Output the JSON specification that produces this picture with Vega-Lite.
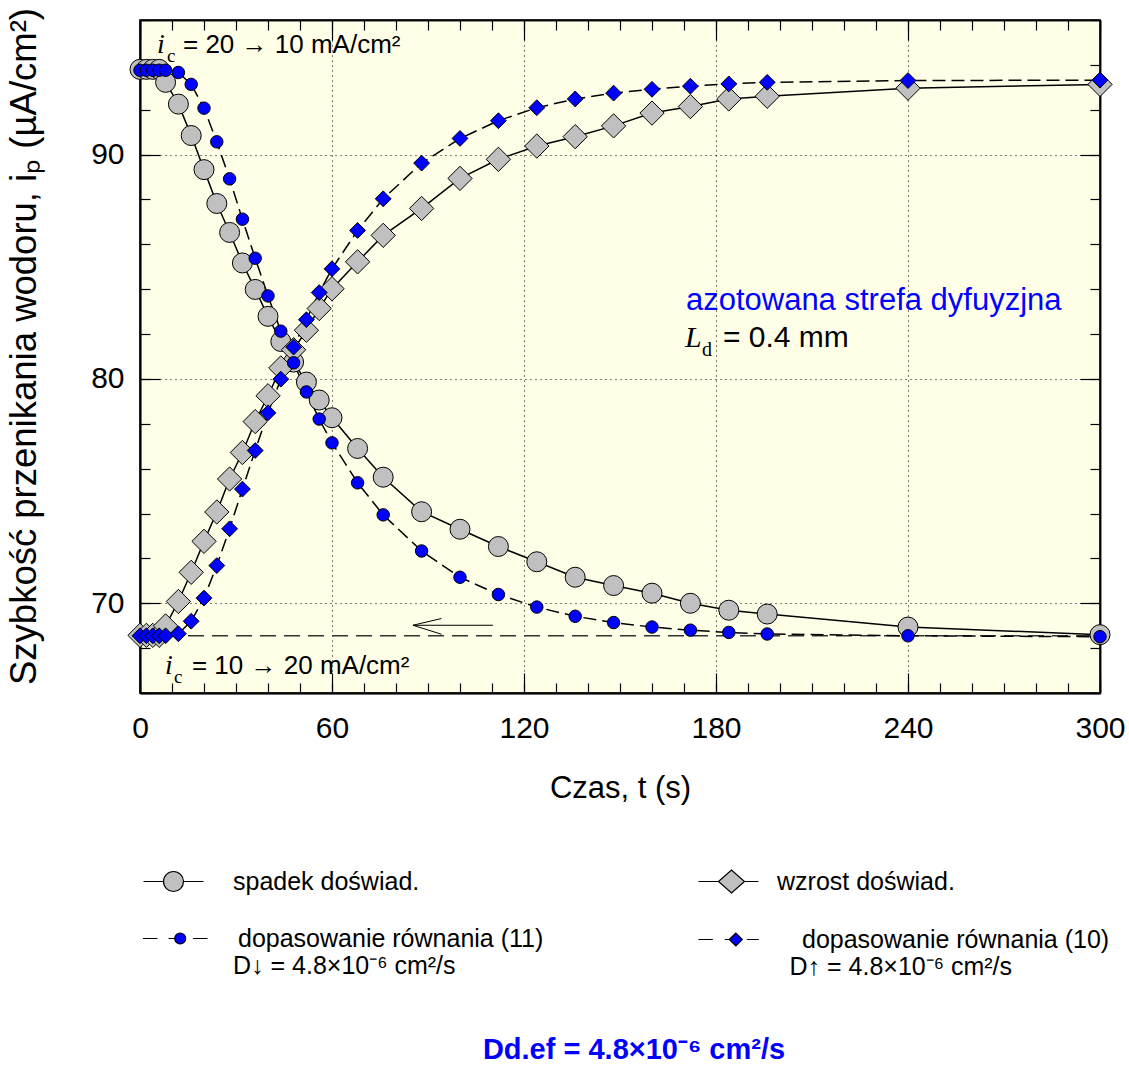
{
  "$schema": "https://vega.github.io/schema/vega-lite/v6.json",
  "width": 960,
  "height": 673,
  "autosize": {"type": "none"},
  "padding": {"left": 140, "top": 20, "right": 29, "bottom": 377},
  "background": "white",
  "config": {
    "view": {"stroke": "black", "strokeWidth": 1.5, "fill": "#FFFFE8"},
    "font": "Liberation Sans",
    "axis": {"domainColor": "black", "domainWidth": 1.5, "tickColor": "black", "tickWidth": 1.2, "labelColor": "black", "labelFont": "Liberation Sans", "labelFontSize": 30, "titleFont": "Liberation Sans", "titleFontSize": 31, "titleFontWeight": "normal", "titleColor": "black", "labelOverlap": false, "labelFlush": false, "gridColor": "black", "gridDash": [1, 4], "gridWidth": 1}
  },
  "title": {"text": "Dd.ef = 4.8×10⁻⁶ cm²/s", "orient": "bottom", "anchor": "middle", "frame": "group", "offset": 56, "dx": 14, "font": "Liberation Sans", "fontSize": 29, "fontWeight": "bold", "color": "#0000FF"},
  "datasets": {
    "curves": [
      {"series": "spadek doświad.", "t": 0, "i": 93.8}, {"series": "spadek doświad.", "t": 2, "i": 93.8}, {"series": "spadek doświad.", "t": 4, "i": 93.8}, {"series": "spadek doświad.", "t": 6, "i": 93.8}, {"series": "spadek doświad.", "t": 8, "i": 93.22}, {"series": "spadek doświad.", "t": 12, "i": 92.25}, {"series": "spadek doświad.", "t": 16, "i": 90.85}, {"series": "spadek doświad.", "t": 20, "i": 89.33}, {"series": "spadek doświad.", "t": 24, "i": 87.82}, {"series": "spadek doświad.", "t": 28, "i": 86.53}, {"series": "spadek doświad.", "t": 32, "i": 85.17}, {"series": "spadek doświad.", "t": 36, "i": 83.99}, {"series": "spadek doświad.", "t": 40, "i": 82.79}, {"series": "spadek doświad.", "t": 44, "i": 81.67}, {"series": "spadek doświad.", "t": 48, "i": 80.75}, {"series": "spadek doświad.", "t": 52, "i": 79.86}, {"series": "spadek doświad.", "t": 56, "i": 79.06}, {"series": "spadek doświad.", "t": 60, "i": 78.27}, {"series": "spadek doświad.", "t": 68, "i": 76.9}, {"series": "spadek doświad.", "t": 76, "i": 75.62}, {"series": "spadek doświad.", "t": 88, "i": 74.08}, {"series": "spadek doświad.", "t": 100, "i": 73.3}, {"series": "spadek doświad.", "t": 112, "i": 72.53}, {"series": "spadek doświad.", "t": 124, "i": 71.85}, {"series": "spadek doświad.", "t": 136, "i": 71.16}, {"series": "spadek doświad.", "t": 148, "i": 70.79}, {"series": "spadek doświad.", "t": 160, "i": 70.45}, {"series": "spadek doświad.", "t": 172, "i": 70.0}, {"series": "spadek doświad.", "t": 184, "i": 69.69}, {"series": "spadek doświad.", "t": 196, "i": 69.52}, {"series": "spadek doświad.", "t": 240, "i": 68.94}, {"series": "spadek doświad.", "t": 300, "i": 68.6},
      {"series": "wzrost doświad.", "t": 0, "i": 68.57}, {"series": "wzrost doświad.", "t": 2, "i": 68.57}, {"series": "wzrost doświad.", "t": 4, "i": 68.57}, {"series": "wzrost doświad.", "t": 6, "i": 68.57}, {"series": "wzrost doświad.", "t": 8, "i": 68.99}, {"series": "wzrost doświad.", "t": 12, "i": 70.08}, {"series": "wzrost doświad.", "t": 16, "i": 71.38}, {"series": "wzrost doświad.", "t": 20, "i": 72.76}, {"series": "wzrost doświad.", "t": 24, "i": 74.07}, {"series": "wzrost doświad.", "t": 28, "i": 75.54}, {"series": "wzrost doświad.", "t": 32, "i": 76.72}, {"series": "wzrost doświad.", "t": 36, "i": 78.1}, {"series": "wzrost doświad.", "t": 40, "i": 79.25}, {"series": "wzrost doświad.", "t": 44, "i": 80.49}, {"series": "wzrost doświad.", "t": 48, "i": 81.3}, {"series": "wzrost doświad.", "t": 52, "i": 82.17}, {"series": "wzrost doświad.", "t": 56, "i": 83.14}, {"series": "wzrost doświad.", "t": 60, "i": 84.02}, {"series": "wzrost doświad.", "t": 68, "i": 85.22}, {"series": "wzrost doświad.", "t": 76, "i": 86.4}, {"series": "wzrost doświad.", "t": 88, "i": 87.6}, {"series": "wzrost doświad.", "t": 100, "i": 88.94}, {"series": "wzrost doświad.", "t": 112, "i": 89.79}, {"series": "wzrost doświad.", "t": 124, "i": 90.38}, {"series": "wzrost doświad.", "t": 136, "i": 90.8}, {"series": "wzrost doświad.", "t": 148, "i": 91.28}, {"series": "wzrost doświad.", "t": 160, "i": 91.85}, {"series": "wzrost doświad.", "t": 172, "i": 92.14}, {"series": "wzrost doświad.", "t": 184, "i": 92.48}, {"series": "wzrost doświad.", "t": 196, "i": 92.6}, {"series": "wzrost doświad.", "t": 240, "i": 92.96}, {"series": "wzrost doświad.", "t": 300, "i": 93.13},
      {"series": "dopasowanie równania (11)", "t": 0, "i": 93.76}, {"series": "dopasowanie równania (11)", "t": 2, "i": 93.76}, {"series": "dopasowanie równania (11)", "t": 4, "i": 93.76}, {"series": "dopasowanie równania (11)", "t": 6, "i": 93.76}, {"series": "dopasowanie równania (11)", "t": 8, "i": 93.76}, {"series": "dopasowanie równania (11)", "t": 12, "i": 93.66}, {"series": "dopasowanie równania (11)", "t": 16, "i": 93.13}, {"series": "dopasowanie równania (11)", "t": 20, "i": 92.07}, {"series": "dopasowanie równania (11)", "t": 24, "i": 90.57}, {"series": "dopasowanie równania (11)", "t": 28, "i": 88.92}, {"series": "dopasowanie równania (11)", "t": 32, "i": 87.12}, {"series": "dopasowanie równania (11)", "t": 36, "i": 85.38}, {"series": "dopasowanie równania (11)", "t": 40, "i": 83.7}, {"series": "dopasowanie równania (11)", "t": 44, "i": 82.13}, {"series": "dopasowanie równania (11)", "t": 48, "i": 80.72}, {"series": "dopasowanie równania (11)", "t": 52, "i": 79.42}, {"series": "dopasowanie równania (11)", "t": 56, "i": 78.21}, {"series": "dopasowanie równania (11)", "t": 60, "i": 77.15}, {"series": "dopasowanie równania (11)", "t": 68, "i": 75.37}, {"series": "dopasowanie równania (11)", "t": 76, "i": 73.94}, {"series": "dopasowanie równania (11)", "t": 88, "i": 72.33}, {"series": "dopasowanie równania (11)", "t": 100, "i": 71.16}, {"series": "dopasowanie równania (11)", "t": 112, "i": 70.39}, {"series": "dopasowanie równania (11)", "t": 124, "i": 69.83}, {"series": "dopasowanie równania (11)", "t": 136, "i": 69.42}, {"series": "dopasowanie równania (11)", "t": 148, "i": 69.14}, {"series": "dopasowanie równania (11)", "t": 160, "i": 68.94}, {"series": "dopasowanie równania (11)", "t": 172, "i": 68.8}, {"series": "dopasowanie równania (11)", "t": 184, "i": 68.7}, {"series": "dopasowanie równania (11)", "t": 196, "i": 68.63}, {"series": "dopasowanie równania (11)", "t": 240, "i": 68.55}, {"series": "dopasowanie równania (11)", "t": 300, "i": 68.51},
      {"series": "dopasowanie równania (10)", "t": 0, "i": 68.55}, {"series": "dopasowanie równania (10)", "t": 2, "i": 68.55}, {"series": "dopasowanie równania (10)", "t": 4, "i": 68.55}, {"series": "dopasowanie równania (10)", "t": 6, "i": 68.55}, {"series": "dopasowanie równania (10)", "t": 8, "i": 68.55}, {"series": "dopasowanie równania (10)", "t": 12, "i": 68.64}, {"series": "dopasowanie równania (10)", "t": 16, "i": 69.2}, {"series": "dopasowanie równania (10)", "t": 20, "i": 70.23}, {"series": "dopasowanie równania (10)", "t": 24, "i": 71.68}, {"series": "dopasowanie równania (10)", "t": 28, "i": 73.32}, {"series": "dopasowanie równania (10)", "t": 32, "i": 75.09}, {"series": "dopasowanie równania (10)", "t": 36, "i": 76.81}, {"series": "dopasowanie równania (10)", "t": 40, "i": 78.49}, {"series": "dopasowanie równania (10)", "t": 44, "i": 79.99}, {"series": "dopasowanie równania (10)", "t": 48, "i": 81.42}, {"series": "dopasowanie równania (10)", "t": 52, "i": 82.64}, {"series": "dopasowanie równania (10)", "t": 56, "i": 83.85}, {"series": "dopasowanie równania (10)", "t": 60, "i": 84.91}, {"series": "dopasowanie równania (10)", "t": 68, "i": 86.62}, {"series": "dopasowanie równania (10)", "t": 76, "i": 88.03}, {"series": "dopasowanie równania (10)", "t": 88, "i": 89.62}, {"series": "dopasowanie równania (10)", "t": 100, "i": 90.72}, {"series": "dopasowanie równania (10)", "t": 112, "i": 91.51}, {"series": "dopasowanie równania (10)", "t": 124, "i": 92.09}, {"series": "dopasowanie równania (10)", "t": 136, "i": 92.48}, {"series": "dopasowanie równania (10)", "t": 148, "i": 92.74}, {"series": "dopasowanie równania (10)", "t": 160, "i": 92.91}, {"series": "dopasowanie równania (10)", "t": 172, "i": 93.05}, {"series": "dopasowanie równania (10)", "t": 184, "i": 93.15}, {"series": "dopasowanie równania (10)", "t": 196, "i": 93.22}, {"series": "dopasowanie równania (10)", "t": 240, "i": 93.3}, {"series": "dopasowanie równania (10)", "t": 300, "i": 93.32}
    ]
  },
  "encoding": {
    "x": {"field": "t", "type": "quantitative", "scale": {"domain": [0, 300], "nice": false, "zero": false}, "axis": null},
    "y": {"field": "i", "type": "quantitative", "scale": {"domain": [66, 96], "nice": false, "zero": false}, "axis": null}
  },
  "layer": [
    {
      "data": {"values": [{"t": 0, "i": 68.55}, {"t": 300, "i": 68.55}]},
      "mark": {"type": "line", "color": "#333333", "strokeWidth": 1.5, "strokeDash": [16, 8]},
      "encoding": {
        "x": {"field": "t", "type": "quantitative", "scale": {"domain": [0, 300], "nice": false, "zero": false},
          "axis": {"orient": "bottom", "title": "Czas, t (s)", "values": [0, 60, 120, 180, 240, 300], "ticks": false, "labelPadding": 20, "titlePadding": 30, "grid": true}},
        "y": {"field": "i", "type": "quantitative", "scale": {"domain": [66, 96], "nice": false, "zero": false},
          "axis": {"orient": "left", "title": "Szybkość przenikania wodoru, iₚ (µA/cm²)", "titleFontSize": 36.5, "titleY": 326, "values": [70, 80, 90], "ticks": false, "labelPadding": 16, "titlePadding": 47, "grid": true}}
      }
    },
    {
      "data": {"values": [
        {"seg": "a", "t": 85.3, "i": 69.02}, {"seg": "a", "t": 110.3, "i": 69.02},
        {"seg": "b", "t": 85.3, "i": 69.02}, {"seg": "b", "t": 94.2, "i": 69.32},
        {"seg": "c", "t": 85.3, "i": 69.02}, {"seg": "c", "t": 94.2, "i": 68.62}
      ]},
      "mark": {"type": "line", "color": "black", "strokeWidth": 1},
      "encoding": {
        "detail": {"field": "seg", "type": "nominal"},
        "x": {"field": "t", "type": "quantitative", "scale": {"domain": [0, 300], "nice": false, "zero": false},
          "axis": {"orient": "top", "title": null, "labels": false, "grid": false, "tickSize": -10, "values": [0,10,20,30,40,50,60,70,80,90,100,110,120,130,140,150,160,170,180,190,200,210,220,230,240,250,260,270,280,290,300]}},
        "y": {"field": "i", "type": "quantitative", "scale": {"domain": [66, 96], "nice": false, "zero": false},
          "axis": {"orient": "right", "title": null, "labels": false, "grid": false, "tickSize": -10, "values": [66,68,70,72,74,76,78,80,82,84,86,88,90,92,94,96]}}
      }
    },
    {
      "data": {"name": "curves"},
      "transform": [{"filter": "datum.series === 'spadek doświad.' || datum.series === 'wzrost doświad.'"}],
      "mark": {"type": "line", "color": "black", "strokeWidth": 1.5},
      "encoding": {
        "detail": {"field": "series", "type": "nominal"},
        "x": {"field": "t", "type": "quantitative", "scale": {"domain": [0, 300], "nice": false, "zero": false},
          "axis": {"orient": "bottom", "title": null, "labels": false, "grid": false, "tickSize": -10, "values": [0,10,20,30,40,50,60,70,80,90,100,110,120,130,140,150,160,170,180,190,200,210,220,230,240,250,260,270,280,290,300]}},
        "y": {"field": "i", "type": "quantitative", "scale": {"domain": [66, 96], "nice": false, "zero": false},
          "axis": {"orient": "left", "title": null, "labels": false, "grid": false, "tickSize": -10, "values": [66,68,70,72,74,76,78,80,82,84,86,88,90,92,94,96]}}
      }
    },
    {
      "data": {"name": "curves"},
      "transform": [{"filter": "datum.series === 'dopasowanie równania (11)' || datum.series === 'dopasowanie równania (10)'"}],
      "mark": {"type": "line", "color": "black", "strokeWidth": 1.5, "strokeDash": [13, 6]},
      "encoding": {
        "detail": {"field": "series", "type": "nominal"},
        "x": {"field": "t", "type": "quantitative", "scale": {"domain": [0, 300], "nice": false, "zero": false},
          "axis": {"orient": "bottom", "title": null, "labels": false, "grid": false, "tickSize": -20, "values": [0, 60, 120, 180, 240, 300]}},
        "y": {"field": "i", "type": "quantitative", "scale": {"domain": [66, 96], "nice": false, "zero": false},
          "axis": {"orient": "left", "title": null, "labels": false, "grid": false, "tickSize": -20, "values": [70, 80, 90]}}
      }
    },
    {
      "data": {"name": "curves"},
      "mark": {"type": "point", "filled": true, "stroke": "black", "strokeWidth": 1, "opacity": 1},
      "encoding": {
        "x": {"field": "t", "type": "quantitative", "scale": {"domain": [0, 300], "nice": false, "zero": false},
          "axis": {"orient": "top", "title": null, "labels": false, "grid": false, "tickSize": -20, "values": [0, 60, 120, 180, 240, 300]}},
        "y": {"field": "i", "type": "quantitative", "scale": {"domain": [66, 96], "nice": false, "zero": false},
          "axis": {"orient": "right", "title": null, "labels": false, "grid": false, "tickSize": -20, "values": [70, 80, 90]}},
        "fill": {"field": "series", "type": "nominal", "scale": {"domain": ["spadek doświad.", "dopasowanie równania (11)", "wzrost doświad.", "dopasowanie równania (10)"], "range": ["#C0C0C0", "#0000FF", "#C0C0C0", "#0000FF"]}, "legend": null},
        "shape": {"field": "series", "type": "nominal", "scale": {"domain": ["spadek doświad.", "dopasowanie równania (11)", "wzrost doświad.", "dopasowanie równania (10)"], "range": ["circle", "circle", "diamond", "diamond"]}, "legend": null},
        "size": {"field": "series", "type": "nominal", "scale": {"type": "ordinal", "domain": ["spadek doświad.", "dopasowanie równania (11)", "wzrost doświad.", "dopasowanie równania (10)"], "range": [400, 155, 590, 250]}, "legend": null}
      }
    },
    {
      "data": {"name": "curves"},
      "transform": [{"filter": "false"}],
      "mark": {"type": "point", "filled": true, "stroke": "black", "strokeWidth": 1, "opacity": 1},
      "encoding": {
        "shape": {"field": "series", "type": "nominal", "scale": {"domain": ["spadek doświad.", "dopasowanie równania (11)"], "range": ["M-3,0H-1M1,0H3M-1,0A1,1,0,1,1,1,0A1,1,0,1,1,-1,0Z", "M-3.06,0H-1.6M-0.5,0H0.12M1.94,0H3.4M0.12,0A0.55,0.55,0,1,1,1.22,0A0.55,0.55,0,1,1,0.12,0Z"]},
          "legend": {"orient": "none", "legendX": 21, "legendY": 849, "direction": "vertical", "title": null, "symbolSize": 400, "symbolStrokeColor": "black", "symbolStrokeWidth": 1.2, "symbolOpacity": 1, "labelOffset": 47, "labelFontSize": 25, "labelFont": "Liberation Sans", "labelColor": "black", "labelLimit": 2000, "rowPadding": 31, "padding": 0,
            "labelExpr": "datum.label === 'dopasowanie równania (11)' ? ['\u200b\u2009dopasowanie równania (11)', 'D↓ = 4.8×10⁻⁶ cm²/s'] : datum.label"}},
        "fill": {"field": "series", "type": "nominal", "scale": {"domain": ["spadek doświad.", "dopasowanie równania (11)"], "range": ["#C0C0C0", "#0000FF"]},
          "legend": {"orient": "none", "legendX": 21, "legendY": 849, "direction": "vertical", "title": null, "symbolSize": 400, "symbolStrokeColor": "black", "symbolStrokeWidth": 1.2, "symbolOpacity": 1, "labelOffset": 47, "labelFontSize": 25, "labelFont": "Liberation Sans", "labelColor": "black", "labelLimit": 2000, "rowPadding": 31, "padding": 0,
            "labelExpr": "datum.label === 'dopasowanie równania (11)' ? ['\u200b\u2009dopasowanie równania (11)', 'D↓ = 4.8×10⁻⁶ cm²/s'] : datum.label"}},
        "stroke": {"field": "series", "type": "nominal", "scale": {"domain": ["spadek doświad.", "dopasowanie równania (11)"], "range": ["black", "black"]},
          "legend": {"orient": "none", "legendX": 21, "legendY": 849, "direction": "vertical", "title": null, "symbolSize": 400, "symbolStrokeColor": "black", "symbolStrokeWidth": 1.2, "symbolOpacity": 1, "labelOffset": 47, "labelFontSize": 25, "labelFont": "Liberation Sans", "labelColor": "black", "labelLimit": 2000, "rowPadding": 31, "padding": 0,
            "labelExpr": "datum.label === 'dopasowanie równania (11)' ? ['\u200b\u2009dopasowanie równania (11)', 'D↓ = 4.8×10⁻⁶ cm²/s'] : datum.label"}}
      }
    },
    {
      "data": {"name": "curves"},
      "transform": [{"filter": "false"}],
      "mark": {"type": "point", "filled": true, "stroke": "black", "strokeWidth": 1, "opacity": 1},
      "encoding": {
        "shape": {"field": "series", "type": "nominal", "scale": {"domain": ["wzrost doświad.", "dopasowanie równania (10)"], "range": ["M-3,0H-1M1.6,0H3M-1,0L0.3,-1.15L1.6,0L0.3,1.15Z", "M-3,0H-1.57M-0.37,0H0.08M1.83,0H3.03M0.08,0L0.73,-0.65L1.38,0L0.73,0.65Z"]},
          "legend": {"orient": "none", "legendX": 576, "legendY": 849, "direction": "vertical", "title": null, "symbolSize": 400, "symbolStrokeColor": "black", "symbolStrokeWidth": 1.2, "symbolOpacity": 1, "labelOffset": 36, "labelFontSize": 25, "labelFont": "Liberation Sans", "labelColor": "black", "labelLimit": 2000, "rowPadding": 31, "padding": 0,
            "labelExpr": "datum.label === 'dopasowanie równania (10)' ? ['\u200b\u2002\u2002dopasowanie równania (10)', '\u200b\u2002D↑ = 4.8×10⁻⁶ cm²/s'] : datum.label"}},
        "fill": {"field": "series", "type": "nominal", "scale": {"domain": ["wzrost doświad.", "dopasowanie równania (10)"], "range": ["#C0C0C0", "#0000FF"]},
          "legend": {"orient": "none", "legendX": 576, "legendY": 849, "direction": "vertical", "title": null, "symbolSize": 400, "symbolStrokeColor": "black", "symbolStrokeWidth": 1.2, "symbolOpacity": 1, "labelOffset": 36, "labelFontSize": 25, "labelFont": "Liberation Sans", "labelColor": "black", "labelLimit": 2000, "rowPadding": 31, "padding": 0,
            "labelExpr": "datum.label === 'dopasowanie równania (10)' ? ['\u200b\u2002\u2002dopasowanie równania (10)', '\u200b\u2002D↑ = 4.8×10⁻⁶ cm²/s'] : datum.label"}},
        "stroke": {"field": "series", "type": "nominal", "scale": {"domain": ["wzrost doświad.", "dopasowanie równania (10)"], "range": ["black", "black"]},
          "legend": {"orient": "none", "legendX": 576, "legendY": 849, "direction": "vertical", "title": null, "symbolSize": 400, "symbolStrokeColor": "black", "symbolStrokeWidth": 1.2, "symbolOpacity": 1, "labelOffset": 36, "labelFontSize": 25, "labelFont": "Liberation Sans", "labelColor": "black", "labelLimit": 2000, "rowPadding": 31, "padding": 0,
            "labelExpr": "datum.label === 'dopasowanie równania (10)' ? ['\u200b\u2002\u2002dopasowanie równania (10)', '\u200b\u2002D↑ = 4.8×10⁻⁶ cm²/s'] : datum.label"}}
      }
    },
    {"data": {"values": [{"t": 5.31, "i": 94.54}]}, "mark": {"type": "text", "text": "i", "font": "Liberation Serif", "fontStyle": "italic", "fontSize": 28, "align": "left", "baseline": "alphabetic", "color": "black"}},
    {"data": {"values": [{"t": 5.31, "i": 94.54}]}, "mark": {"type": "text", "text": "c", "font": "Liberation Serif", "fontSize": 19, "align": "left", "baseline": "alphabetic", "dx": 10, "dy": 9, "color": "black"}},
    {"data": {"values": [{"t": 5.31, "i": 94.54}]}, "mark": {"type": "text", "text": "= 20 → 10 mA/cm²", "font": "Liberation Sans", "fontSize": 26, "align": "left", "baseline": "alphabetic", "dx": 26, "color": "black"}},
    {"data": {"values": [{"t": 7.8, "i": 66.83}]}, "mark": {"type": "text", "text": "i", "font": "Liberation Serif", "fontStyle": "italic", "fontSize": 28, "align": "left", "baseline": "alphabetic", "color": "black"}},
    {"data": {"values": [{"t": 7.8, "i": 66.83}]}, "mark": {"type": "text", "text": "c", "font": "Liberation Serif", "fontSize": 19, "align": "left", "baseline": "alphabetic", "dx": 9, "dy": 9, "color": "black"}},
    {"data": {"values": [{"t": 7.8, "i": 66.83}]}, "mark": {"type": "text", "text": "= 10 → 20 mA/cm²", "font": "Liberation Sans", "fontSize": 26, "align": "left", "baseline": "alphabetic", "dx": 27, "color": "black"}},
    {"data": {"values": [{"t": 170.6, "i": 83.08}]}, "mark": {"type": "text", "text": "azotowana strefa dyfuyzjna", "font": "Liberation Sans", "fontSize": 31, "align": "left", "baseline": "alphabetic", "color": "#0000FF"}},
    {"data": {"values": [{"t": 170.3, "i": 81.42}]}, "mark": {"type": "text", "text": "L", "font": "Liberation Serif", "fontStyle": "italic", "fontSize": 30, "align": "left", "baseline": "alphabetic", "color": "black"}},
    {"data": {"values": [{"t": 170.3, "i": 81.42}]}, "mark": {"type": "text", "text": "d", "font": "Liberation Serif", "fontSize": 20, "align": "left", "baseline": "alphabetic", "dx": 17, "dy": 9, "color": "black"}},
    {"data": {"values": [{"t": 170.3, "i": 81.42}]}, "mark": {"type": "text", "text": "= 0.4 mm", "font": "Liberation Sans", "fontSize": 30, "align": "left", "baseline": "alphabetic", "dx": 38, "color": "black"}}
  ],
  "resolve": {
    "axis": {"x": "independent", "y": "independent"},
    "scale": {"fill": "independent", "shape": "independent", "size": "independent", "stroke": "independent"},
    "legend": {"fill": "independent", "shape": "independent", "stroke": "independent"}
  }
}
